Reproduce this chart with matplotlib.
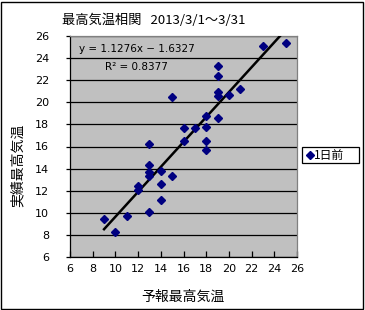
import numpy as np
import matplotlib
matplotlib.use("Agg")
import matplotlib.pyplot as plt
from matplotlib.patches import Rectangle
from matplotlib.lines import Line2D

plt.rcParams['font.family'] = ['Noto Sans CJK JP', 'DejaVu Sans']

forecast = [9, 10, 11, 12, 12, 13, 13, 13, 13, 13, 14, 14, 14, 15, 15, 16, 16,
            17, 18, 18, 18, 18, 19, 19, 19, 19, 19, 20, 21, 23, 25]
actual = [9.4, 8.3, 9.7, 12.4, 12.1, 10.1, 13.3, 13.7, 14.3, 16.2, 11.2, 12.6, 13.8,
          13.3, 20.5, 16.5, 17.7, 17.7, 15.7, 16.5, 17.8, 18.8, 18.6, 20.6, 20.9,
          22.4, 23.3, 20.7, 21.2, 25.1, 25.4]
series_name = "1日前"
slope = 1.1276
intercept = -1.6327
r2 = 0.8377
title = "最高気温相関   2013/3/1～3/31"
xlabel = "予報最高気温"
ylabel = "実績最高気温"
ticks = list(range(6, 27, 2))

W, H = 365, 310
fig = plt.figure(figsize=(W / 100, H / 100), dpi=100)
fig.patch.set_facecolor('white')
fig.add_artist(Rectangle((1.0 / W, 1.5 / H), (W - 2.6) / W, (H - 3) / H,
                         transform=fig.transFigure, fill=False, edgecolor='black', lw=1.0))

ax = fig.add_axes([70 / W, 1 - 257 / H, 227 / W, 221 / H])
ax.set_facecolor('#C0C0C0')
ax.set_xlim(6, 26)
ax.set_ylim(6, 26)
ax.set_xticks(ticks)
ax.set_yticks(ticks)
ax.yaxis.grid(True, color='black', lw=0.9)
ax.set_axisbelow(True)
for s in ['top', 'right']:
    ax.spines[s].set_color('#808080')
    ax.spines[s].set_linewidth(0.9)
for s in ['left', 'bottom']:
    ax.spines[s].set_color('black')
    ax.spines[s].set_linewidth(0.9)
ax.tick_params(axis='x', direction='in', length=4, width=0.9, labelsize=8, pad=5)
ax.tick_params(axis='y', direction='out', length=3, width=0.9, labelsize=8, pad=12)
for lab in ax.get_yticklabels() + ax.get_xticklabels():
    lab.set_family(['DejaVu Sans'])

xs = np.array([min(forecast), max(forecast)])
ax.plot(xs, slope * xs + intercept, color='black', lw=1.8, zorder=3)
ax.plot(forecast, actual, linestyle='none', marker='D', markersize=4.5,
        color='#000080', zorder=4, label=series_name)

ax.text(6.8, 24.8, f"y = {slope}x − {abs(intercept)}", fontsize=7.5,
        family=['DejaVu Sans'], va='center')
ax.text(9.1, 23.15, f"R² = {r2}", fontsize=7.5, family=['DejaVu Sans'], va='center')

fig.text(62 / W, 1 - 20 / H, title, fontsize=9.5, va='center', ha='left')
fig.text(183 / W, 1 - 297 / H, xlabel, fontsize=10, va='center', ha='center')
fig.text(18 / W, 1 - 165 / H, ylabel, fontsize=10, va='center', ha='center', rotation=90)

# legend box
fig.add_artist(Rectangle((302 / W, 1 - 163 / H), 57 / W, 16 / H, transform=fig.transFigure,
                         facecolor='white', edgecolor='black', lw=0.9))
fig.add_artist(Line2D([310 / W], [1 - 155 / H], transform=fig.transFigure, marker='D',
                      markersize=4.5, color='#000080', linestyle='none'))
fig.text(314 / W, 1 - 155 / H, series_name, fontsize=8.5, va='center', ha='left')

fig.savefig("out.png", dpi=100)
